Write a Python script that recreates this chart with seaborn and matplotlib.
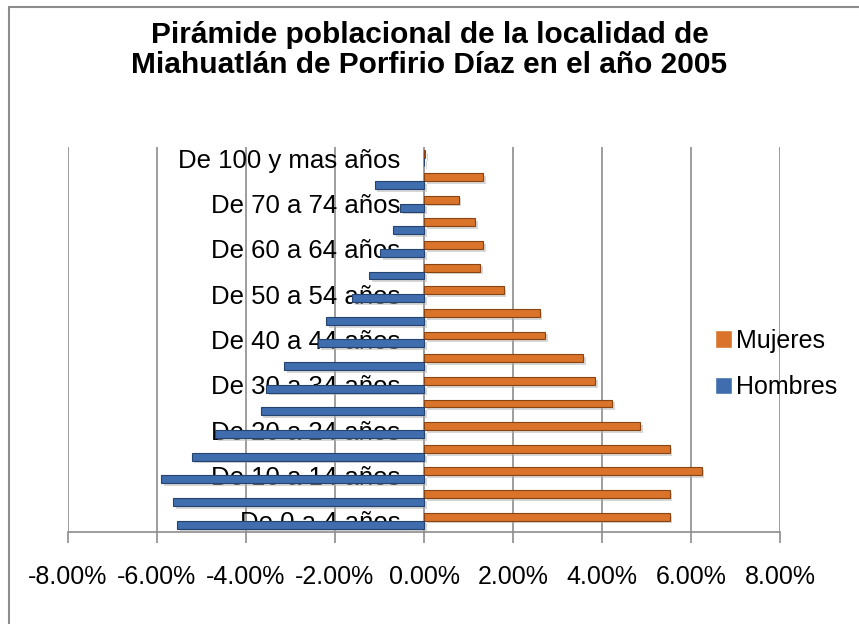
import matplotlib
matplotlib.use('Agg')
import matplotlib.pyplot as plt
import matplotlib.patheffects as pe
from matplotlib.lines import Line2D
from matplotlib.ticker import FuncFormatter
import seaborn as sns
import pandas as pd

# Age groups, bottom (youngest) to top
grupos = ['De 0 a 4 años', 'De 5 a 9 años', 'De 10 a 14 años', 'De 15 a 19 años',
          'De 20 a 24 años', 'De 25 a 29 años', 'De 30 a 34 años', 'De 35 a 39 años',
          'De 40 a 44 años', 'De 45 a 49 años', 'De 50 a 54 años', 'De 55 a 59 años',
          'De 60 a 64 años', 'De 65 a 69 años', 'De 70 a 74 años', 'De 75 a 99 años',
          'De 100 y mas años']

# Percent of total population (men plotted as negative)
hombres = [5.54, 5.64, 5.90, 5.22, 4.70, 3.67, 3.55, 3.14, 2.38, 2.20,
           1.62, 1.23, 0.99, 0.70, 0.54, 1.11, 0.01]
mujeres = [5.52, 5.52, 6.24, 5.52, 4.86, 4.22, 3.84, 3.57, 2.73, 2.60,
           1.79, 1.26, 1.33, 1.14, 0.78, 1.33, 0.03]

series = ['Mujeres', 'Hombres']
colores = {'Mujeres': '#D9742A', 'Hombres': '#3F6DAE'}
bordes = {'Mujeres': '#8A4311', 'Hombres': '#25436C'}

ticks_x = [-8, -6, -4, -2, 0, 2, 4, 6, 8]

df = pd.DataFrame({
    'grupo': grupos * 2,
    'valor': [-h for h in hombres] + mujeres,
    'sexo': ['Hombres'] * len(grupos) + ['Mujeres'] * len(grupos),
})

sns.set_style('white')
plt.rcParams['font.family'] = ['Liberation Sans', 'DejaVu Sans']
plt.rcParams['text.color'] = 'black'
plt.rcParams['xtick.labelcolor'] = 'black'
plt.rcParams['ytick.labelcolor'] = 'black'

fig = plt.figure(figsize=(8.59, 6.24), dpi=100)
ax = fig.add_axes([68 / 859, 92 / 624, 712 / 859, 385 / 624])

sns.barplot(data=df, x='valor', y='grupo', hue='sexo', orient='h',
            order=grupos[::-1], hue_order=series, palette=colores,
            saturation=1, width=0.7, dodge=True, ax=ax)

# bevel-ish look: dark edge plus a soft shadow
for cont, s in zip(ax.containers, series):
    for bar in cont:
        bar.set_edgecolor(bordes[s])
        bar.set_linewidth(0.8)
        bar.set_path_effects([pe.SimplePatchShadow(offset=(2, -2), shadow_rgbFace='#b0b0b0', alpha=0.5),
                              pe.Normal()])

ax.set_xlim(-8, 8)
ax.set_ylim(len(grupos) - 0.5, -0.5)
ax.set_xticks(ticks_x)
ax.xaxis.set_major_formatter(FuncFormatter(lambda v, p: f'{v:.2f}%'))
ax.tick_params(axis='x', labelsize=18, length=8, width=1.2, color='#8c8c8c',
               labelcolor='black', direction='out', pad=16, bottom=True)
ax.grid(axis='x', color='#8c8c8c', linewidth=1.2)
ax.set_axisbelow(True)

# category labels every other group, next to the zero line
orden = grupos[::-1]
ax.set_yticks(range(len(orden)))
ax.set_yticklabels([g if grupos.index(g) % 2 == 0 else '' for g in orden])
ax.spines['left'].set_position(('data', 0))
ax.spines['left'].set_visible(False)
ax.tick_params(axis='y', labelsize=18.5, length=0, pad=17, labelcolor='black')

for side in ['top', 'right']:
    ax.spines[side].set_visible(False)
ax.spines['bottom'].set_color('#8c8c8c')
ax.spines['bottom'].set_linewidth(1.2)

ax.set_xlabel('')
ax.set_ylabel('')

ax.legend(loc='center left', bbox_to_anchor=(702 / 859, 1 - 364 / 624),
          bbox_transform=fig.transFigure, frameon=False, fontsize=18,
          handlelength=0.7, handleheight=0.7, handletextpad=0.15,
          labelspacing=0.9, borderpad=0)

fig.suptitle('Pirámide poblacional de la localidad de\nMiahuatlán de Porfirio Díaz en el año 2005',
             y=0.966, fontsize=21.5, fontweight='bold', linespacing=1.1, color='black')

# chart frame (only left and top edges are visible in the crop)
fig.add_artist(Line2D([9 / 859, 9 / 859], [0, 1 - 7 / 624], color='#8c8c8c', lw=1.5))
fig.add_artist(Line2D([9 / 859, 1], [1 - 7 / 624, 1 - 7 / 624], color='#8c8c8c', lw=1.5))

plt.savefig('out.png', dpi=100)
plt.close()
